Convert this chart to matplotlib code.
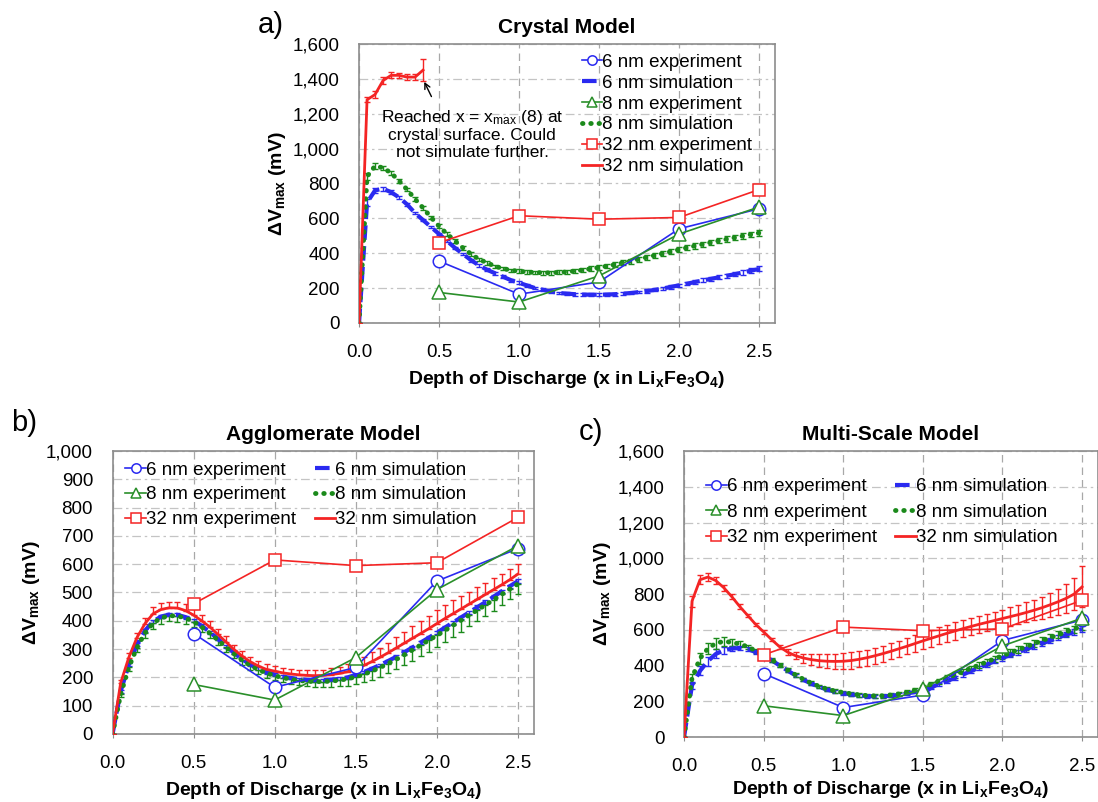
import numpy as np
import matplotlib
matplotlib.use("Agg")
import matplotlib.pyplot as plt
from matplotlib.ticker import StrMethodFormatter, MultipleLocator

plt.rcParams['font.family'] = ['Liberation Sans', 'DejaVu Sans']
plt.rcParams['mathtext.fontset'] = 'custom'
plt.rcParams['mathtext.rm'] = 'Liberation Sans'
plt.rcParams['mathtext.it'] = 'Liberation Sans:italic'
plt.rcParams['mathtext.bf'] = 'Liberation Sans:bold'

# depth of discharge for the measurements and for the simulation output
x_exp = [0.5, 1.0, 1.5, 2.0, 2.5]
x_sim = np.round(np.arange(0, 2.501, 0.05), 2)

# measured dV_max (mV), same for every model
exp_6nm = [355, 165, 235, 540, 655]
exp_8nm = [175, 120, 270, 510, 665]
exp_32nm = [460, 615, 595, 605, 765]

# --- crystal model ---
crys_6nm = [0, 690, 760, 770, 750, 720, 680, 630, 590, 550,
            510, 470, 430, 395, 360, 330, 305, 285, 265, 245,
            230, 215, 200, 190, 180, 172, 168, 165, 163, 162,
            162, 163, 165, 168, 172, 177, 183, 190, 198, 207,
            216, 225, 235, 244, 253, 262, 271, 280, 290, 300, 310]
crys_6nm_err = [0, 20, 15, 12, 10, 10, 8, 8, 8, 8,
                8, 8, 8, 8, 8, 8, 8, 8, 8, 8,
                8, 8, 8, 8, 8, 8, 8, 8, 8, 8,
                8, 8, 8, 8, 8, 8, 9, 9, 9, 10,
                10, 10, 10, 11, 11, 12, 12, 12, 13, 13, 14]
crys_8nm = [0, 840, 900, 890, 860, 815, 765, 710, 660, 605,
            555, 510, 470, 430, 395, 365, 345, 325, 312, 302,
            297, 292, 290, 288, 288, 290, 293, 298, 304, 311,
            318, 326, 335, 345, 355, 366, 377, 388, 399, 410,
            421, 432, 442, 452, 462, 472, 481, 490, 499, 508, 516]
crys_8nm_err = [0, 20, 15, 12, 10, 10, 10, 10, 10, 10,
                10, 10, 10, 10, 10, 10, 10, 10, 10, 10,
                10, 10, 10, 11, 11, 11, 12, 12, 12, 13,
                13, 13, 14, 14, 14, 15, 15, 15, 15, 15,
                15, 15, 15, 15, 15, 15, 15, 15, 15, 15, 15]
crys_32nm = [0, 1280, 1310, 1390, 1420, 1420, 1410, 1410, 1450]
crys_32nm_err = [0, 15, 20, 20, 18, 15, 15, 18, 65]

# --- agglomerate model ---
aggl_6nm = [0, 150, 245, 315, 365, 398, 415, 422, 421, 413,
            400, 382, 360, 336, 310, 286, 264, 245, 230, 218,
            210, 203, 198, 194, 191, 190, 190, 192, 195, 200,
            209, 219, 231, 244, 258, 273, 289, 306, 323, 340,
            358, 376, 394, 412, 430, 448, 466, 485, 504, 522, 540]
aggl_6nm_err = [0, 4, 5, 5, 5, 5, 5, 5, 5, 5,
                5, 5, 5, 5, 5, 5, 5, 5, 5, 5,
                5, 5, 5, 5, 5, 5, 5, 5, 5, 5,
                5, 5, 5, 5, 5, 6, 6, 6, 6, 6,
                6, 6, 6, 6, 6, 6, 6, 6, 6, 6, 6]
aggl_8nm = [0, 140, 235, 305, 357, 392, 410, 418, 417, 410,
            397, 378, 356, 332, 307, 283, 261, 242, 227, 215,
            206, 199, 193, 189, 186, 185, 185, 187, 190, 195,
            202, 211, 222, 235, 249, 264, 280, 297, 314, 331,
            348, 366, 384, 402, 420, 438, 456, 474, 493, 512, 530]
aggl_8nm_err = [0, 10, 14, 16, 18, 20, 20, 20, 20, 20,
                20, 18, 18, 18, 18, 16, 16, 16, 16, 16,
                16, 16, 16, 16, 16, 18, 18, 20, 22, 24,
                26, 28, 30, 32, 34, 36, 38, 40, 40, 42,
                42, 42, 42, 42, 40, 40, 40, 38, 38, 36, 36]
aggl_32nm = [0, 180, 270, 340, 390, 425, 440, 446, 445, 436,
             420, 400, 378, 352, 325, 298, 275, 255, 240, 228,
             222, 216, 212, 209, 207, 206, 207, 210, 214, 220,
             230, 242, 256, 271, 287, 304, 321, 338, 355, 372,
             390, 408, 425, 442, 459, 476, 493, 510, 527, 545, 565]
aggl_32nm_err = [0, 10, 15, 18, 20, 22, 22, 22, 22, 22,
                 22, 20, 20, 20, 20, 18, 18, 18, 18, 18,
                 18, 18, 18, 18, 18, 20, 20, 22, 24, 26,
                 28, 30, 32, 34, 36, 38, 40, 42, 44, 46,
                 48, 48, 48, 46, 44, 42, 40, 40, 38, 38, 36]

# --- multi-scale model ---
mult_6nm = [0, 290, 370, 425, 465, 485, 495, 498, 492, 475,
            455, 430, 400, 372, 345, 320, 298, 280, 265, 253,
            245, 238, 233, 229, 227, 228, 231, 236, 243, 252,
            263, 278, 295, 312, 330, 349, 368, 387, 405, 424,
            442, 459, 475, 492, 508, 524, 540, 556, 572, 588, 605]
mult_6nm_err = [0, 20, 25, 25, 25, 20, 15, 12, 10, 10,
                10, 8, 8, 8, 8, 8, 8, 8, 8, 8,
                8, 8, 8, 8, 8, 8, 8, 8, 8, 8,
                10, 10, 10, 10, 12, 12, 12, 12, 12, 12,
                14, 14, 14, 14, 14, 15, 15, 15, 15, 15, 15]
mult_8nm = [0, 330, 440, 495, 525, 535, 530, 520, 505, 482,
            458, 432, 404, 375, 348, 323, 301, 283, 268, 257,
            249, 242, 236, 232, 230, 231, 235, 241, 250, 262,
            277, 294, 312, 330, 348, 366, 384, 402, 420, 438,
            455, 472, 489, 506, 523, 540, 556, 572, 588, 604, 620]
mult_8nm_err = [0, 25, 30, 30, 30, 25, 20, 15, 12, 10,
                10, 10, 10, 10, 10, 10, 10, 10, 10, 10,
                10, 10, 10, 10, 10, 10, 10, 12, 12, 12,
                14, 14, 14, 15, 15, 15, 15, 16, 16, 16,
                18, 18, 18, 18, 18, 20, 20, 20, 20, 20, 20]
mult_32nm = [0, 760, 880, 895, 875, 835, 785, 730, 680, 630,
             588, 545, 505, 475, 455, 442, 433, 427, 424, 423,
             424, 428, 435, 444, 455, 467, 480, 494, 508, 523,
             538, 552, 566, 580, 593, 606, 618, 630, 641, 652,
             663, 674, 685, 697, 710, 724, 740, 757, 776, 800, 840]
mult_32nm_err = [0, 30, 25, 22, 20, 18, 15, 12, 10, 10,
                 10, 10, 12, 15, 20, 25, 30, 35, 40, 42,
                 44, 45, 45, 45, 45, 45, 45, 45, 45, 46,
                 46, 47, 47, 48, 48, 48, 48, 49, 49, 50,
                 50, 52, 54, 56, 58, 62, 66, 72, 80, 90, 115]

legend_labels_col = ['6 nm experiment', '8 nm experiment', '32 nm experiment',
                     '6 nm simulation', '8 nm simulation', '32 nm simulation']
legend_labels_row = ['6 nm experiment', '6 nm simulation', '8 nm experiment',
                     '8 nm simulation', '32 nm experiment', '32 nm simulation']

BLUE = '#2a2af0'
GREEN = '#2a8f2a'
DGREEN = '#1b8a1b'
RED = '#f42424'
FS = 13.5


def style_axes(ax, ymax, ystep, xlabelpad=6):
    """Excel-like frame, grid and tick formatting"""
    ax.set_xlim(0, 2.6)
    ax.set_ylim(0, ymax)
    ax.xaxis.set_major_locator(MultipleLocator(0.5))
    ax.yaxis.set_major_locator(MultipleLocator(ystep))
    ax.xaxis.set_major_formatter(StrMethodFormatter('{x:.1f}'))
    ax.yaxis.set_major_formatter(StrMethodFormatter('{x:,.0f}'))
    ax.set_axisbelow(True)
    ax.grid(axis='y', linestyle=(0, (7, 3, 2, 3)), color='#c4c4c4', lw=0.9)
    ax.grid(axis='x', linestyle=(0, (6, 4)), color='#a8a8a8', lw=0.9)
    for s in ax.spines.values():
        s.set_color('#8c8c8c')
        s.set_linewidth(1.2)
    ax.tick_params(axis='x', labelsize=FS, length=3, color='#8c8c8c', pad=12)
    ax.tick_params(axis='y', labelsize=FS, length=0, pad=14)
    ax.set_xlabel(r'Depth of Discharge (x in Li$_\mathbf{x}$Fe$_\mathbf{3}$O$_\mathbf{4}$)',
                  fontsize=14, fontweight='bold', labelpad=xlabelpad)
    ax.set_ylabel(r'ΔV$_\mathbf{max}$ (mV)', fontsize=14, fontweight='bold', labelpad=3)


def draw_experiments(ax):
    h6, = ax.plot(x_exp, exp_6nm, '-o', color=BLUE, lw=1.2, ms=9, mfc='white', mew=1.1, zorder=4)
    h8, = ax.plot(x_exp, exp_8nm, '-^', color=GREEN, lw=1.2, ms=9.5, mfc='white', mew=1.1, zorder=4)
    h32, = ax.plot(x_exp, exp_32nm, '-s', color=RED, lw=1.2, ms=9, mfc='white', mew=1.1, zorder=4)
    return h6, h8, h32


def draw_simulations(ax, y6, e6, y8, e8, y32, e32, x32=x_sim):
    eb = dict(capsize=2, elinewidth=1.0, capthick=1.0)
    r6 = ax.errorbar(x_sim, y6, yerr=e6, color=BLUE, lw=3, ls=(0, (3.5, 1.5)), zorder=3, **eb)
    r8 = ax.errorbar(x_sim, y8, yerr=e8, color=DGREEN, lw=3.5, ls=(0, (0.1, 1.6)), zorder=3, **eb)
    r32 = ax.errorbar(x32, y32, yerr=e32, color=RED, lw=2, ls='-', zorder=3, **eb)
    r8[0].set_dash_capstyle('round')
    return r6[0], r8[0], r32[0]


def add_legend(ax, handles, labels, ncol, anchor, spacing):
    ax.legend(handles, labels, ncol=ncol, loc='upper left', bbox_to_anchor=anchor,
              frameon=False, fontsize=FS, handlelength=1.1, handletextpad=0.0,
              labelspacing=spacing, columnspacing=1.0, markerscale=0.75,
              borderpad=0, borderaxespad=0)


fig = plt.figure(figsize=(10.98, 8.02), dpi=100)

# a) crystal model
ax_a = fig.add_axes([0.327, 0.5973, 0.3789, 0.3479])
style_axes(ax_a, 1600, 200)
e6, e8, e32 = draw_experiments(ax_a)
s6, s8, s32 = draw_simulations(ax_a, crys_6nm, crys_6nm_err, crys_8nm, crys_8nm_err,
                               crys_32nm, crys_32nm_err, x32=x_sim[:len(crys_32nm)])
ax_a.set_title('Crystal Model', fontsize=15, fontweight='bold', pad=8)
add_legend(ax_a, [e6, s6, e8, s8, e32, s32], legend_labels_row, 1, (0.535, 0.965), 0.2)
ax_a.annotate('', xy=(0.40, 1397), xytext=(0.46, 1284),
              arrowprops=dict(arrowstyle='->', color='black', lw=1))
ax_a.text(0.706, 1084, 'Reached x = x$_{\\mathrm{max}}$ (8) at\ncrystal surface. Could\nnot simulate further.',
          ha='center', va='center', fontsize=12.5, linespacing=1.15)
fig.text(0.247, 0.969, 'a)', fontsize=21, ha='center', va='center')

# b) agglomerate model
ax_b = fig.add_axes([0.1025, 0.0848, 0.3839, 0.3529])
style_axes(ax_b, 1000, 100)
e6, e8, e32 = draw_experiments(ax_b)
s6, s8, s32 = draw_simulations(ax_b, aggl_6nm, aggl_6nm_err,
                               aggl_8nm, [aggl_8nm_err, np.zeros(len(aggl_8nm_err))],
                               aggl_32nm, [np.zeros(len(aggl_32nm_err)), aggl_32nm_err])
ax_b.set_title('Agglomerate Model', fontsize=15, fontweight='bold', pad=8)
add_legend(ax_b, [e6, e8, e32, s6, s8, s32], legend_labels_col, 2, (0.03, 0.962), 0.4)
fig.text(0.022, 0.472, 'b)', fontsize=21, ha='center', va='center')

# c) multi-scale model (sits a little lower, so the x label gets less room)
ax_c = fig.add_axes([0.623, 0.081, 0.377, 0.3566])
style_axes(ax_c, 1600, 200, xlabelpad=3)
e6, e8, e32 = draw_experiments(ax_c)
s6, s8, s32 = draw_simulations(ax_c, mult_6nm, mult_6nm_err, mult_8nm, mult_8nm_err,
                               mult_32nm, mult_32nm_err)
ax_c.set_title('Multi-Scale Model', fontsize=15, fontweight='bold', pad=8)
add_legend(ax_c, [e6, e8, e32, s6, s8, s32], legend_labels_col, 2, (0.053, 0.905), 0.45)
fig.text(0.538, 0.461, 'c)', fontsize=21, ha='center', va='center')

fig.savefig('out.png', dpi=100)
